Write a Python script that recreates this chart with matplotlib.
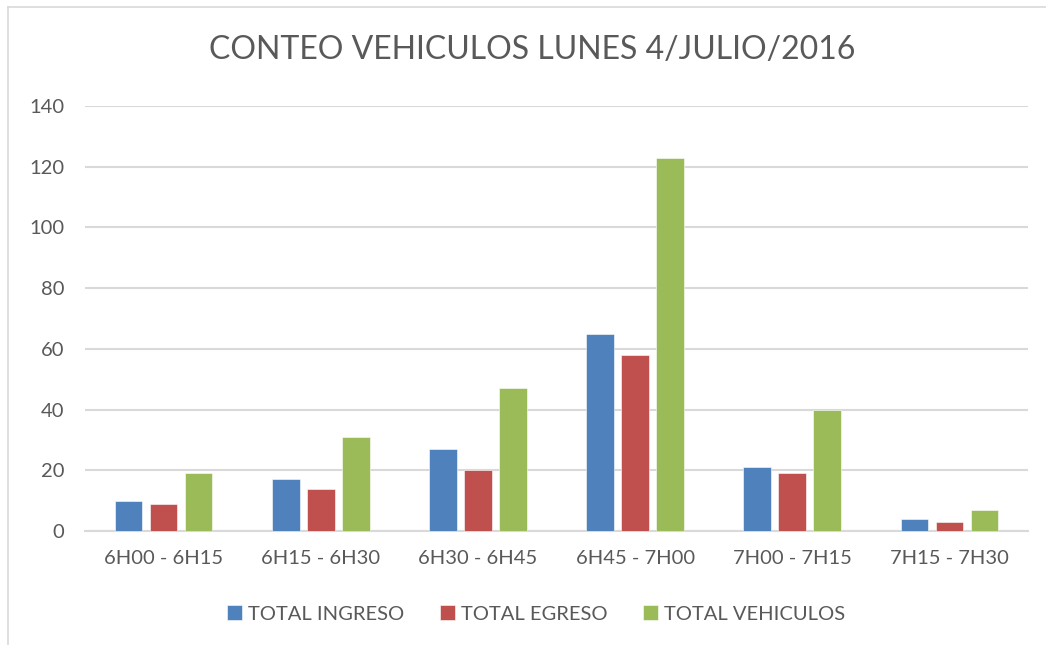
import matplotlib
matplotlib.use("Agg")
import matplotlib.pyplot as plt
import numpy as np
from matplotlib.lines import Line2D

categories = ["6H00 - 6H15", "6H15 - 6H30", "6H30 - 6H45", "6H45 - 7H00", "7H00 - 7H15", "7H15 - 7H30"]
total_ingreso = [10, 17, 27, 65, 21, 4]
total_egreso = [9, 14, 20, 58, 19, 3]
total_vehiculos = [19, 31, 47, 123, 40, 7]
series_names = ["TOTAL INGRESO", "TOTAL EGRESO", "TOTAL VEHICULOS"]
colors = ["#4F81BD", "#C0504D", "#9BBB59"]
title = "CONTEO VEHICULOS LUNES 4/JULIO/2016"

plt.rcParams['font.family'] = ['Lato', 'DejaVu Sans']
txt = "#595959"
grid = "#D9D9D9"

W, H = 1046, 645
fig = plt.figure(figsize=(W / 100, H / 100), dpi=100)
ax = fig.add_axes([85 / W, 1 - 531 / H, (1028 - 85) / W, (531 - 106) / H])

x = np.arange(len(categories))
bw = 0.176
off = 0.223
for i, (vals, name, c) in enumerate(zip([total_ingreso, total_egreso, total_vehiculos], series_names, colors)):
    ax.bar(x + (i - 1) * off, vals, width=bw, color=c, label=name, zorder=3,
           edgecolor="white", linewidth=0.4)

ax.set_xlim(-0.5, len(categories) - 0.5)
ax.set_ylim(0, 140)
ax.set_yticks(np.arange(0, 141, 20))
ax.set_xticks(x)
ax.set_xticklabels(categories)
ax.grid(axis="y", color=grid, linewidth=1.5, zorder=0)
for s in ["left", "right", "top"]:
    ax.spines[s].set_visible(False)
ax.spines["bottom"].set_color(grid)
ax.spines["bottom"].set_linewidth(1.5)
ax.tick_params(axis="both", length=0, labelsize=14.5, colors=txt)
ax.tick_params(axis="y", pad=15)
ax.tick_params(axis="x", pad=14)

fig.text(532 / W, 1 - 50 / H, title, ha="center", va="center", fontsize=23,
         color=txt)

leg = fig.legend(loc="center", bbox_to_anchor=(536 / W, 1 - 614 / H), ncol=3,
                 frameon=False, fontsize=14.5, handlelength=0.75, handleheight=0.75,
                 columnspacing=1.75, handletextpad=0.3)
for t in leg.get_texts():
    t.set_color(txt)

# chart border
fig.add_artist(Line2D([8 / W, 1], [1 - 7 / H, 1 - 7 / H], color=grid, linewidth=1.2))
fig.add_artist(Line2D([8 / W, 8 / W], [1 - 7 / H, 0], color=grid, linewidth=1.2))

fig.savefig("out.png", dpi=100)
